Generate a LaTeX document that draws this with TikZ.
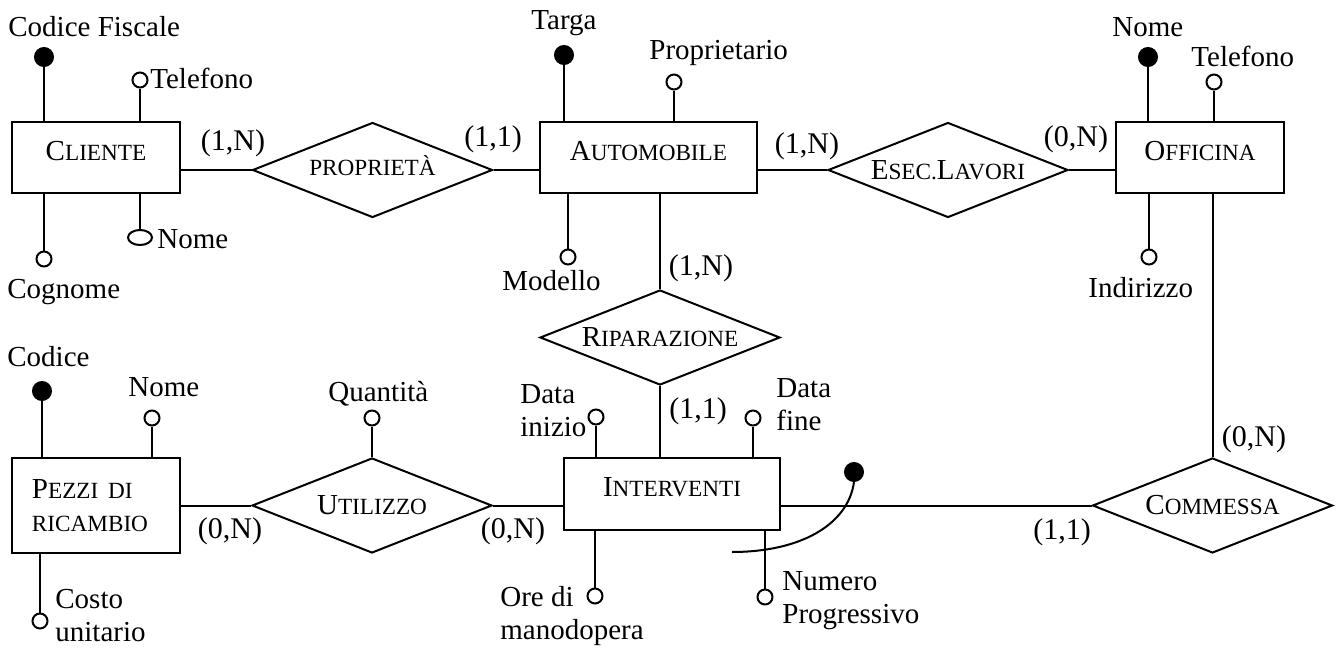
\documentclass[tikz,border=0pt]{standalone}
\usepackage{fontspec}
\setmainfont{Liberation Serif}
\usetikzlibrary{shapes.geometric}
% reduced-size capitals used for small-caps style names
\newcommand\smc[1]{{\fontsize{11.6}{13}\selectfont #1}}
\begin{document}
\begin{tikzpicture}[x=0.5pt,y=-0.5pt,
  link/.style={line width=1pt},
  ent/.style={draw,line width=1pt,rectangle,inner sep=0pt,
    minimum width=84pt,minimum height=35.5pt,
    text height=10pt,text depth=7.5pt,font=\fontsize{14.5}{16.5}\selectfont},
  rel/.style={draw,line width=1pt,diamond,aspect=2.5,inner sep=0pt,
    minimum width=120pt,minimum height=47.5pt,
    text height=9pt,text depth=0pt,font=\fontsize{14.5}{16.5}\selectfont},
  attr/.style={circle,draw,fill=white,line width=1pt,minimum size=7.5pt,inner sep=0pt},
  keyattr/.style={circle,draw,fill=black,line width=1pt,minimum size=9pt,inner sep=0pt},
  lbl/.style={font=\fontsize{14.5}{16.5}\selectfont,inner sep=0pt,anchor=base west,align=left},
  card/.style={font=\fontsize{15}{17}\selectfont,inner sep=0pt,anchor=base}]
\useasboundingbox (0,0) rectangle (1340,648);

% entities
\node[ent] (cliente) at (96,157.5) {C\smc{LIENTE}};
\node[ent,minimum width=108.5pt] (auto) at (648.5,157.5) {A\smc{UTOMOBILE}};
\node[ent] (officina) at (1200,157.5) {O\smc{FFICINA}};
\node[ent,minimum width=108pt,minimum height=36pt] (interv) at (672,494) {I\smc{NTERVENTI}};
\node[ent,text height={},text depth={},align=left,text width=64pt,inner xsep=10pt,
  minimum height=47.5pt] (pezzi) at (96,505.5) {P\smc{EZZI DI}\\\smc{RICAMBIO}};

% relationships
\node[rel,text height=5.5pt] (propr) at (372.5,170) {\smc{PROPRIETÀ}};
\node[rel] (esec) at (948,170) {E\smc{SEC.}L\smc{AVORI}};
\node[rel] (ripar) at (660,337.5) {R\smc{IPARAZIONE}};
\node[rel] (utilizzo) at (372,505.5) {U\smc{TILIZZO}};
\node[rel] (commessa) at (1212.5,505.5) {C\smc{OMMESSA}};

% entity-relationship links
\draw[link] (cliente.east |- propr.west) -- (propr.west);
\draw[link] (propr.east) -- (propr.east -| auto.west);
\draw[link] (auto.east |- esec.west) -- (esec.west);
\draw[link] (esec.east) -- (esec.east -| officina.west);
\draw[link] (ripar.north) -- (ripar.north |- auto.south);
\draw[link] (ripar.south) -- (ripar.south |- interv.north);
\draw[link] (pezzi.east |- utilizzo.west) -- (utilizzo.west);
\draw[link] (utilizzo.east) -- (utilizzo.east -| interv.west);
\draw[link] (commessa.west -| interv.east) -- (commessa.west);
\draw[link] (commessa.north) -- (commessa.north |- officina.south);

% cardinalities
\node[card] (c1) at (233,150) {(1,N)};
\node[card] (c2) at (493,146) {(1,1)};
\node[card] (c3) at (807,153) {(1,N)};
\node[card] (c4) at (1076,146) {(0,N)};
\node[card] (c5) at (701,275) {(1,N)};
\node[card] (c6) at (698,418) {(1,1)};
\node[card] (c7) at (1254,446) {(0,N)};
\node[card] (c8) at (1062,539) {(1,1)};
\node[card] (c9) at (230,538) {(0,N)};
\node[card] (c10) at (513,538) {(0,N)};

% CLIENTE attributes
\node[keyattr] (clCF) at (44,57) {};
\node[attr] (clTel) at (140,80) {};
\node[ellipse,draw,fill=white,line width=1pt,minimum width=12pt,minimum height=7.5pt,inner sep=0pt] (clNome) at (140,237.5) {};
\node[attr] (clCogn) at (44,259) {};
\draw[link] (clCF.south) -- (clCF.south |- cliente.north);
\draw[link] (clTel.south) -- (clTel.south |- cliente.north);
\draw[link] (clNome.north) -- (clNome.north |- cliente.south);
\draw[link] (clCogn.north) -- (clCogn.north |- cliente.south);
\node[lbl] (lclCF) at (8,36) {Codice Fiscale};
\node[lbl] (lclTel) at (150,88) {Telefono};
\node[lbl] (lclNome) at (157,248) {Nome};
\node[lbl] (lclCogn) at (7,298) {Cognome};

% AUTOMOBILE attributes
\node[keyattr] (auTarga) at (564,55) {};
\node[attr] (auProp) at (674,82) {};
\node[attr] (auMod) at (568,257) {};
\draw[link] (auTarga.south) -- (auTarga.south |- auto.north);
\draw[link] (auProp.south) -- (auProp.south |- auto.north);
\draw[link] (auMod.north) -- (auMod.north |- auto.south);
\node[lbl,anchor=base] (lauTarga) at (564,30) {Targa};
\node[lbl] (lauProp) at (649,60) {Proprietario};
\node[lbl] (lauMod) at (502,290) {Modello};

% OFFICINA attributes
\node[keyattr] (ofNome) at (1148,57) {};
\node[attr] (ofTel) at (1214,82) {};
\node[attr] (ofInd) at (1149,257) {};
\draw[link] (ofNome.south) -- (ofNome.south |- officina.north);
\draw[link] (ofTel.south) -- (ofTel.south |- officina.north);
\draw[link] (ofInd.north) -- (ofInd.north |- officina.south);
\node[lbl] (lofNome) at (1112,36) {Nome};
\node[lbl] (lofTel) at (1191,66) {Telefono};
\node[lbl] (lofInd) at (1088,297) {Indirizzo};

% PEZZI DI RICAMBIO attributes
\node[keyattr] (pzCod) at (42,391) {};
\node[attr] (pzNome) at (152,418) {};
\node[attr] (pzCosto) at (40,621) {};
\draw[link] (pzCod.south) -- (pzCod.south |- pezzi.north);
\draw[link] (pzNome.south) -- (pzNome.south |- pezzi.north);
\draw[link] (pzCosto.north) -- (pzCosto.north |- pezzi.south);
\node[lbl] (lpzCod) at (7,366) {Codice};
\node[lbl] (lpzNome) at (128,396) {Nome};
% two-line labels are placed by the baseline of their last line
\node[lbl] (lpzCosto) at (55,641) {Costo\\unitario};

% UTILIZZO attribute
\node[attr] (utQta) at (372,418) {};
\draw[link] (utQta.south) -- (utilizzo.north);
\node[lbl] (lutQta) at (328,401) {Quantità};

% INTERVENTI attributes
\node[attr] (inIni) at (596,417) {};
\node[attr] (inFine) at (753,418) {};
\node[attr] (inOre) at (595,596) {};
\node[attr] (inNum) at (765,597) {};
\draw[link] (inIni.south) -- (inIni.south |- interv.north);
\draw[link] (inFine.south) -- (inFine.south |- interv.north);
\draw[link] (inOre.north) -- (inOre.north |- interv.south);
\draw[link] (inNum.north) -- (inNum.north |- interv.south);
\node[lbl] (linIni) at (520,436) {Data\\inizio};
\node[lbl] (linFine) at (776,430) {Data\\fine};
\node[lbl] (linOre) at (500,639) {Ore di\\manodopera};
\node[lbl] (linNum) at (782,623) {Numero\\Progressivo};

% composite identifier of INTERVENTI
\node[keyattr] (inKey) at (854,472) {};
\coordinate (arcStart) at (732,552);
\draw[link] (arcStart) .. controls (800,552) and (848,525) .. (inKey.south);
\end{tikzpicture}
\end{document}
